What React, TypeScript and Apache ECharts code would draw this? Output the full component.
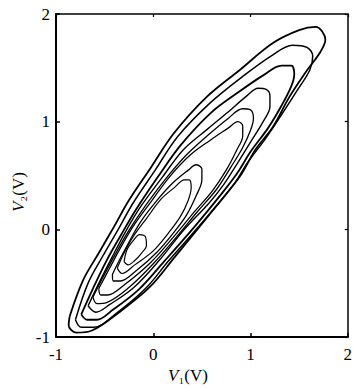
import React, { useEffect, useRef } from "react";
import * as echarts from "echarts";

// Axis ticks
const xTicks = [-1, 0, 1, 2];
const yTicks = [-1, 0, 1, 2];

// Contour lines, outermost first: [V1, V2]
const contour1 = [
  [-0.86, -0.81], [-0.72, -0.47], [-0.56, -0.22], [-0.4, 0.03], [-0.25, 0.27], [-0.02, 0.58],
  [0.21, 0.89], [0.55, 1.23], [0.89, 1.48], [1.23, 1.73], [1.5, 1.85], [1.67, 1.88],
  [1.77, 1.76], [1.72, 1.65], [1.56, 1.45], [1.4, 1.23], [1.23, 0.95], [1.05, 0.74],
  [0.89, 0.49], [0.57, 0.13], [0.21, -0.27], [-0.04, -0.54], [-0.35, -0.77], [-0.63, -0.94],
  [-0.79, -0.96], [-0.87, -0.89], [-0.86, -0.81],
];
const contour2 = [
  [-0.8, -0.84], [-0.67, -0.5], [-0.52, -0.25], [-0.36, 0.0], [-0.21, 0.24], [0.02, 0.55],
  [0.25, 0.86], [0.58, 1.17], [0.92, 1.42], [1.23, 1.62], [1.43, 1.71], [1.58, 1.69],
  [1.64, 1.61], [1.61, 1.48], [1.48, 1.29], [1.33, 1.08], [1.16, 0.85], [0.97, 0.62],
  [0.83, 0.42], [0.51, 0.07], [0.16, -0.29], [-0.08, -0.55], [-0.38, -0.78], [-0.61, -0.91],
  [-0.74, -0.91], [-0.8, -0.84],
];
const contour3 = [
  [-0.74, -0.79], [-0.62, -0.55], [-0.48, -0.29], [-0.33, -0.05], [-0.18, 0.18], [0.05, 0.49],
  [0.28, 0.78], [0.59, 1.08], [0.87, 1.27], [1.13, 1.43], [1.32, 1.52], [1.42, 1.52],
  [1.45, 1.44], [1.42, 1.33], [1.32, 1.15], [1.18, 0.94], [1.0, 0.72], [0.87, 0.53],
  [0.72, 0.35], [0.43, 0.03], [0.11, -0.3], [-0.15, -0.56], [-0.42, -0.75], [-0.58, -0.84],
  [-0.68, -0.84], [-0.74, -0.79],
];
const contour4 = [
  [-0.67, -0.71], [-0.57, -0.52], [-0.43, -0.27], [-0.29, -0.03], [-0.13, 0.21], [0.09, 0.48],
  [0.31, 0.74], [0.57, 0.94], [0.77, 1.09], [0.95, 1.23], [1.08, 1.31], [1.16, 1.3],
  [1.2, 1.24], [1.2, 1.14], [1.13, 1.0], [1.0, 0.81], [0.87, 0.62], [0.72, 0.41],
  [0.57, 0.24], [0.32, 0.0], [0.06, -0.29], [-0.2, -0.54], [-0.45, -0.7], [-0.59, -0.77],
  [-0.67, -0.71],
];
const contour5 = [
  [-0.62, -0.63], [-0.52, -0.45], [-0.39, -0.23], [-0.25, -0.01], [-0.08, 0.22], [0.12, 0.46],
  [0.34, 0.69], [0.57, 0.88], [0.77, 1.03], [0.92, 1.12], [1.0, 1.11], [1.03, 1.03],
  [1.0, 0.92], [0.92, 0.76], [0.8, 0.58], [0.65, 0.37], [0.46, 0.17], [0.24, -0.07],
  [0.0, -0.32], [-0.25, -0.54], [-0.48, -0.68], [-0.58, -0.69], [-0.62, -0.63],
];
const contour6 = [
  [-0.56, -0.55], [-0.46, -0.38], [-0.33, -0.16], [-0.19, 0.05], [-0.02, 0.26], [0.17, 0.49],
  [0.38, 0.69], [0.59, 0.83], [0.77, 0.94], [0.87, 1.0], [0.92, 0.96], [0.92, 0.87],
  [0.86, 0.74], [0.75, 0.55], [0.61, 0.36], [0.42, 0.16], [0.2, -0.08], [-0.04, -0.32],
  [-0.29, -0.51], [-0.47, -0.61], [-0.54, -0.61], [-0.56, -0.55],
];
const contour7 = [
  [-0.42, -0.42], [-0.35, -0.29], [-0.25, -0.12], [-0.13, 0.07], [0.03, 0.26], [0.2, 0.43],
  [0.36, 0.55], [0.44, 0.6], [0.5, 0.56], [0.5, 0.46], [0.44, 0.31], [0.34, 0.13],
  [0.21, -0.03], [0.04, -0.21], [-0.17, -0.38], [-0.34, -0.48], [-0.41, -0.48], [-0.42, -0.42],
];
const contour8 = [
  [-0.37, -0.36], [-0.3, -0.22], [-0.2, -0.06], [-0.07, 0.1], [0.08, 0.28], [0.22, 0.39],
  [0.32, 0.46], [0.37, 0.46], [0.39, 0.39], [0.36, 0.27], [0.28, 0.12], [0.16, -0.03],
  [0.0, -0.2], [-0.19, -0.33], [-0.32, -0.41], [-0.37, -0.36],
];
const contour9 = [
  [-0.3, -0.3], [-0.27, -0.19], [-0.21, -0.11], [-0.14, -0.05], [-0.08, -0.07], [-0.07, -0.15],
  [-0.12, -0.22], [-0.19, -0.29], [-0.26, -0.33], [-0.3, -0.3],
];

const contours = [contour1, contour2, contour3, contour4, contour5, contour6, contour7, contour8, contour9];
const widths = [1.8, 1.5, 1.8, 1.4, 1.3, 1.3, 1.3, 1.2, 1.2];

const FONT = "Liberation Serif";

export default function App() {
  const ref = useRef<HTMLDivElement>(null);
  useEffect(() => {
    if (!ref.current) return;
    const chart = echarts.init(ref.current, undefined, { renderer: "svg" });
    const axisCommon = {
      type: "value" as const,
      min: -1,
      max: 2,
      interval: 1,
      splitLine: { show: false },
    };
    chart.setOption({
      animation: false,
      backgroundColor: "#fff",
      grid: { left: 56, right: 4, top: 14, bottom: 51, containLabel: false },
      xAxis: [
        {
          ...axisCommon,
          position: "bottom",
          axisLine: { show: true, onZero: false, lineStyle: { color: "#000", width: 2 } },
          axisTick: { show: true, inside: true, length: 4, lineStyle: { color: "#000", width: 1.5 } },
          axisLabel: {
            show: true,
            color: "#000",
            fontFamily: FONT,
            fontSize: 17,
            margin: 9,
            formatter: (v: number) => (xTicks.includes(v) ? String(v) : ""),
          },
        },
        {
          ...axisCommon,
          position: "top",
          axisLine: { show: true, onZero: false, lineStyle: { color: "#000", width: 1.5 } },
          axisTick: { show: true, inside: true, length: 3, lineStyle: { color: "#000", width: 1.2 } },
          axisLabel: { show: false },
        },
      ],
      yAxis: [
        {
          ...axisCommon,
          position: "left",
          axisLine: { show: true, onZero: false, lineStyle: { color: "#000", width: 2 } },
          axisTick: { show: true, inside: true, length: 4, lineStyle: { color: "#000", width: 1.5 } },
          axisLabel: {
            show: true,
            color: "#000",
            fontFamily: FONT,
            fontSize: 17,
            margin: 6,
            formatter: (v: number) => (yTicks.includes(v) ? String(v) : ""),
          },
        },
        {
          ...axisCommon,
          position: "right",
          axisLine: { show: true, onZero: false, lineStyle: { color: "#000", width: 1.5 } },
          axisTick: { show: true, inside: true, length: 3, lineStyle: { color: "#000", width: 1.2 } },
          axisLabel: { show: false },
        },
      ],
      graphic: [
        {
          type: "text",
          left: 168,
          top: 367,
          style: {
            text: "{i|V}₁(V)",
            fill: "#000",
            font: `17px "${FONT}"`,
            rich: { i: { fontStyle: "italic", fontFamily: FONT, fontSize: 17 } },
          },
        },
        {
          type: "text",
          x: 10,
          y: 212,
          rotation: Math.PI / 2,
          style: {
            text: "{i|V}₂(V)",
            fill: "#000",
            font: `17px "${FONT}"`,
            rich: { i: { fontStyle: "italic", fontFamily: FONT, fontSize: 17 } },
          },
        },
      ],
      series: contours.map((c, i) => ({
        type: "line",
        data: c,
        xAxisIndex: 0,
        yAxisIndex: 0,
        showSymbol: false,
        smooth: 0.35,
        silent: true,
        lineStyle: { color: "#000", width: widths[i] },
      })),
    });
    return () => chart.dispose();
  }, []);
  return <div ref={ref} style={{ position: "fixed", left: 0, top: 0, width: 355, height: 388 }} />;
}
